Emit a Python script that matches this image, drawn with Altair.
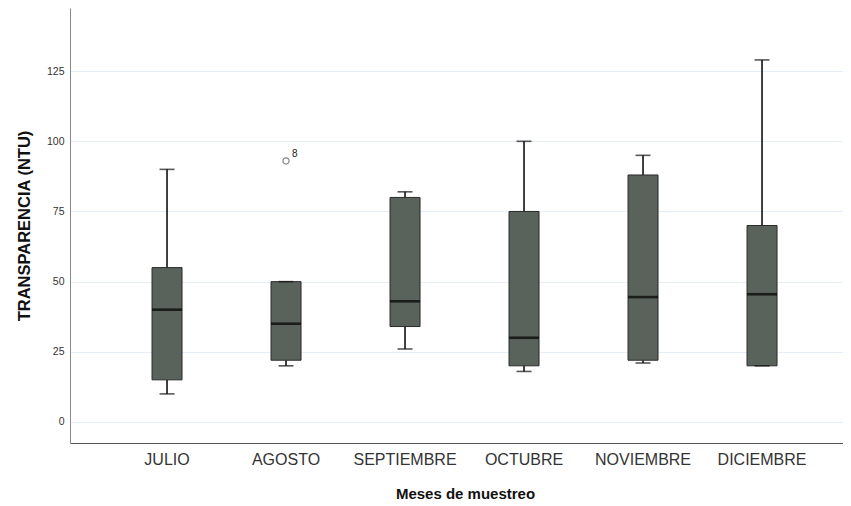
import altair as alt
import pandas as pd

months = ["JULIO", "AGOSTO", "SEPTIEMBRE", "OCTUBRE", "NOVIEMBRE", "DICIEMBRE"]
whisker_low = [10, 20, 26, 18, 21, 20]
q1 = [15, 22, 34, 20, 22, 20]
median = [40, 35, 43, 30, 44.5, 45.5]
q3 = [55, 50, 80, 75, 88, 70]
whisker_high = [90, 50, 82, 100, 95, 129]

outlier_month = ["AGOSTO"]
outlier_value = [93]
outlier_label = ["8"]

df = pd.DataFrame({
    "mes": months, "lo": whisker_low, "q1": q1, "med": median,
    "q3": q3, "hi": whisker_high,
})
out = pd.DataFrame({"mes": outlier_month, "v": outlier_value, "lab": outlier_label})

FONT = "Liberation Sans"
W, H = 773, 435
x_scale = alt.Scale(domain=months, paddingInner=0, paddingOuter=0.2479, align=0.636)
y_scale = alt.Scale(domain=[-7.5, 147.5], nice=False, zero=False)

x_enc = alt.X("mes:N", scale=x_scale, sort=months, axis=alt.Axis(
    title="Meses de muestreo", labelAngle=0, ticks=False, grid=False,
    labelFont=FONT, labelFontSize=16, labelColor="#333333", labelPadding=8,
    titleFont=FONT, titleFontSize=15, titleFontWeight="bold", titleColor="#111111",
    titleX=395, titleY=50, titleBaseline="middle", titleAlign="center",
    domainColor="#555555", domainWidth=1,
))
y_enc = alt.Y("q1:Q", scale=y_scale, axis=alt.Axis(
    title="TRANSPARENCIA (NTU)", values=[0, 25, 50, 75, 100, 125], ticks=False,
    grid=True, gridColor="#e6eef8", gridWidth=1,
    labelFont=FONT, labelFontSize=10.5, labelColor="#333333", labelPadding=6,
    titleFont=FONT, titleFontSize=16.5, titleFontWeight="bold", titleColor="#111111",
    titleX=-46, titleY=217.5, titleAngle=-90, titleBaseline="middle", titleAlign="center",
    domainColor="#888888", domainWidth=1,
))

base = alt.Chart(df)
xs = alt.X("mes:N", scale=x_scale, sort=months)

whisk_up = base.mark_rule(color="#111111", strokeWidth=1.6).encode(
    x=x_enc, y=alt.Y("q3:Q", scale=y_scale), y2="hi:Q")
whisk_dn = base.mark_rule(color="#111111", strokeWidth=1.6).encode(
    x=xs, y=alt.Y("lo:Q", scale=y_scale), y2="q1:Q")
box = base.mark_bar(size=30, color="#5a625c", stroke="#2a2a2a", strokeWidth=1).encode(
    x=xs, y=y_enc, y2="q3:Q")
med = base.mark_tick(size=30, thickness=2.6, color="#000000").encode(
    x=xs, y=alt.Y("med:Q", scale=y_scale))
cap_hi = base.mark_tick(size=15, thickness=1.6, color="#111111").encode(
    x=xs, y=alt.Y("hi:Q", scale=y_scale))
cap_lo = base.mark_tick(size=15, thickness=1.6, color="#111111").encode(
    x=xs, y=alt.Y("lo:Q", scale=y_scale))

obase = alt.Chart(out)
opts = obase.mark_point(shape="circle", size=38, filled=False, color="#555555", strokeWidth=1.2).encode(
    x=xs, y=alt.Y("v:Q", scale=y_scale))
olab = obase.mark_text(font=FONT, fontSize=10, color="#222222", dx=6, dy=-7, align="left").encode(
    x=xs, y=alt.Y("v:Q", scale=y_scale), text="lab:N")

chart = alt.layer(whisk_up, whisk_dn, box, med, cap_hi, cap_lo, opts, olab).properties(
    width=W, height=H,
    background="white",
    autosize=alt.AutoSizeParams(type="none"),
    padding={"left": 62, "top": 0, "right": 0, "bottom": 59},
).configure_view(stroke=None)

chart.save("out.html", embed_options={"renderer": "svg", "actions": False})
